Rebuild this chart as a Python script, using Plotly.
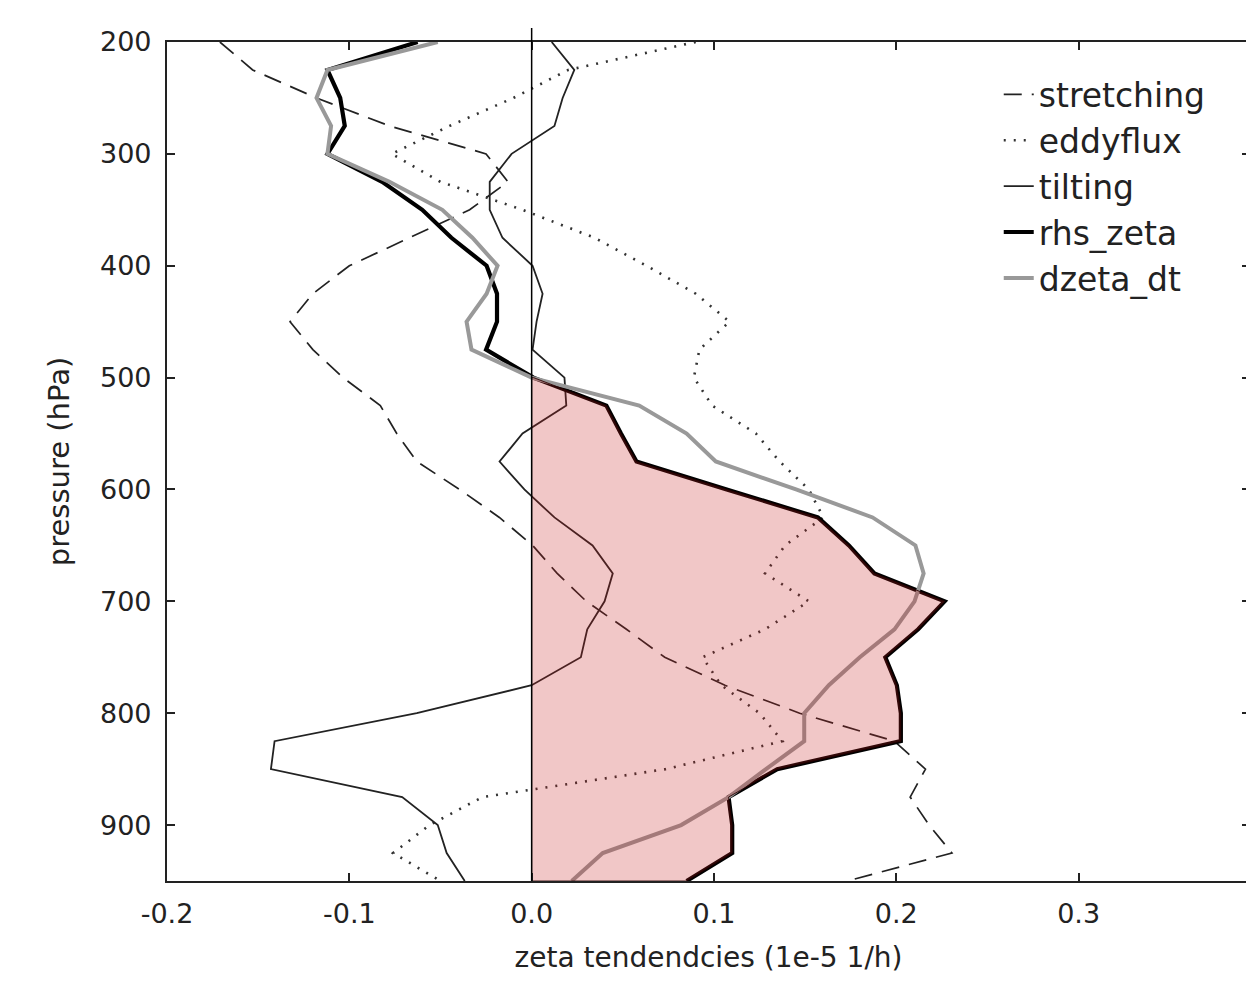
import numpy as np
import plotly.graph_objects as go

# pressure levels (hPa)
pressure = [200, 225, 250, 275, 300, 325, 350, 375, 400, 425, 450, 475, 500, 525, 550,
            575, 600, 625, 650, 675, 700, 725, 750, 775, 800, 825, 850, 875, 900, 925, 950]

stretching = [-0.171, -0.153, -0.118, -0.078, -0.025, -0.013, -0.034, -0.067, -0.100, -0.120,
              -0.1325, -0.120, -0.1035, -0.083, -0.074, -0.063, -0.0395, -0.0177, 0.0005, 0.014,
              0.030, 0.052, 0.073, 0.106, 0.147, 0.199, 0.216, 0.2076, 0.218, 0.2305, 0.173]

eddyflux = [0.090, 0.020, -0.010, -0.045, -0.0767, -0.050, -0.005, 0.0345, 0.063, 0.090,
            0.1085, 0.092, 0.089, 0.099, 0.123, 0.136, 0.152, 0.160, 0.139, 0.128,
            0.152, 0.128, 0.0937, 0.104, 0.125, 0.1375, 0.0735, -0.027, -0.056, -0.076, -0.050]

tilting = [0.011, 0.0234, 0.017, 0.0125, -0.011, -0.023, -0.023, -0.016, 0.0005, 0.006,
           0.0027, 0.0005, 0.018, 0.019, -0.005, -0.0176, -0.004, 0.0125, 0.0334, 0.0445,
           0.040, 0.0305, 0.027, 0.000, -0.063, -0.141, -0.143, -0.071, -0.0515, -0.0466, -0.0367]

rhs_zeta = [-0.0625, -0.112, -0.105, -0.1025, -0.112, -0.082, -0.060, -0.044, -0.0247, -0.019,
            -0.019, -0.025, 0.001, 0.041, 0.049, 0.0575, 0.107, 0.157, 0.174, 0.188,
            0.2265, 0.212, 0.194, 0.2003, 0.2025, 0.2025, 0.1347, 0.108, 0.110, 0.110, 0.085]

dzeta_dt = [-0.0515, -0.112, -0.118, -0.110, -0.112, -0.078, -0.049, -0.0325, -0.0187, -0.0247,
            -0.0357, -0.033, 0.000, 0.059, 0.085, 0.101, 0.145, 0.187, 0.2105, 0.215,
            0.210, 0.199, 0.180, 0.163, 0.1495, 0.1495, 0.1285, 0.108, 0.082, 0.039, 0.022]

xtick_vals = [-0.2, -0.1, 0.0, 0.1, 0.2, 0.3]
xtick_text = ["-0.2", "-0.1", "0.0", "0.1", "0.2", "0.3"]
ytick_vals = [200, 300, 400, 500, 600, 700, 800, 900]

FONT = "DejaVu Sans"
TXT = "#222222"

fig = go.Figure()

fig.add_trace(go.Scatter(x=stretching, y=pressure, mode="lines", name="stretching",
                         line=dict(color="#222222", width=1.7, dash="18px,10px")))
fig.add_trace(go.Scatter(x=eddyflux, y=pressure, mode="lines", name="eddyflux",
                         line=dict(color="#333333", width=2.6, dash="2px,8px")))
fig.add_trace(go.Scatter(x=tilting, y=pressure, mode="lines", name="tilting",
                         line=dict(color="#222222", width=1.8)))
fig.add_trace(go.Scatter(x=rhs_zeta, y=pressure, mode="lines", name="rhs_zeta",
                         line=dict(color="#000000", width=4.2)))
fig.add_trace(go.Scatter(x=dzeta_dt, y=pressure, mode="lines", name="dzeta_dt",
                         line=dict(color="#999999", width=4)))

# shaded region where rhs_zeta > 0
p_arr = np.array(pressure, dtype=float)
r_arr = np.array(rhs_zeta, dtype=float)
mask = r_arr > 0
fx = np.concatenate([r_arr[mask], np.zeros(2)])
fy = np.concatenate([p_arr[mask], [p_arr[mask][-1], p_arr[mask][0]]])
fx = np.append(fx, fx[0])
fy = np.append(fy, fy[0])
fig.add_trace(go.Scatter(x=fx, y=fy, mode="lines", fill="toself",
                         fillcolor="rgba(200,30,30,0.25)",
                         line=dict(color="rgba(40,0,0,0.85)", width=1),
                         showlegend=False, hoverinfo="skip"))

# zero line
fig.add_shape(type="line", xref="x", yref="paper", x0=0, x1=0, y0=0, y1=1.0167,
              line=dict(color="black", width=1.5), layer="above")

fig.update_layout(
    width=1246, height=966,
    margin=dict(l=159, r=2, t=34, b=92),
    paper_bgcolor="white", plot_bgcolor="white",
    font=dict(family=FONT, color=TXT, size=29),
    showlegend=True,
    legend=dict(x=0.768, y=0.971, xanchor="left", yanchor="top",
                font=dict(family=FONT, size=33, color=TXT),
                bgcolor="rgba(0,0,0,0)", borderwidth=0),
    xaxis=dict(range=[-0.2, 0.394], tickvals=xtick_vals, ticktext=xtick_text,
               showgrid=False, zeroline=False,
               showline=True, linecolor="#222222", linewidth=2.2, mirror="allticks",
               ticks="inside", ticklen=8, tickwidth=1.5, tickcolor="#222222",
               tickfont=dict(family=FONT, size=27, color=TXT), ticklabelstandoff=7,
               title=dict(text="zeta tendendcies (1e-5 1/h)", standoff=24,
                          font=dict(family=FONT, size=28, color=TXT))),
    yaxis=dict(range=[950, 200], tickvals=ytick_vals,
               showgrid=False, zeroline=False,
               showline=True, linecolor="#222222", linewidth=2.2, mirror="allticks",
               ticks="inside", ticklen=8, tickwidth=1.5, tickcolor="#222222",
               tickfont=dict(family=FONT, size=27, color=TXT), ticklabelstandoff=8,
               title=dict(text="pressure (hPa)", standoff=22,
                          font=dict(family=FONT, size=29, color=TXT))),
)

fig.write_html("out.html")
